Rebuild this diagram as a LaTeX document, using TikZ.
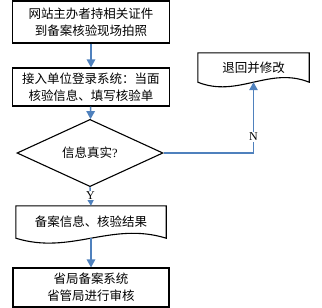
\documentclass[tikz,border=0pt]{standalone}
\usepackage{fontspec}
\setmainfont{Liberation Serif}
\newfontfamily\cjk{Noto Sans CJK SC}
\usetikzlibrary{shapes.geometric,arrows.meta}
\definecolor{flowblue}{RGB}{79,129,189}
\begin{document}
\begin{tikzpicture}[x=1pt,y=1pt,
  txt/.style={inner sep=0pt,align=center,font=\cjk\fontsize{12.5}{17}\selectfont},
  box/.style={txt,draw=black,line width=1.1pt},
  docnode/.style={txt,draw=none},
  docline/.style={draw=black,line width=1.1pt,line join=miter},
  dia/.style={txt,draw=black,line width=1.1pt,shape=diamond},
  flow/.style={draw=flowblue,line width=1.4pt,-{Triangle[length=8pt,width=8.5pt]}},
  lab/.style={fill=white,inner sep=1pt,font=\fontsize{12}{13}\selectfont}]
\useasboundingbox (0,0) rectangle (322,-308);
\node[box,minimum width=157pt,minimum height=42pt] (b1) at (91,-22) {网站主办者持相关证件\\到备案核验现场拍照};
\node[box,minimum width=157pt,minimum height=38pt] (b2) at (91,-87) {接入单位登录系统：当面\\核验信息、填写核验单};
\node[dia,minimum width=146pt,minimum height=50pt] (dia) at (90,-153) {信息真实{\rmfamily ?}};
\node[docnode,minimum width=111pt,minimum height=29pt] (d1) at (253.5,-67.5) {退回并修改};
\draw[docline] (d1.south west) -- (d1.north west) -- (d1.north east) -- (d1.south east)
  .. controls +(-40,16) and +(40,-16) .. (d1.south west) -- cycle;
\node[docnode,minimum width=150pt,minimum height=32pt] (d2) at (91,-222) {备案信息、核验结果};
\draw[docline] (d2.south west) -- (d2.north west) -- (d2.north east) -- (d2.south east)
  .. controls +(-55,17) and +(55,-17) .. (d2.south west) -- cycle;
\node[box,minimum width=156pt,minimum height=39pt] (b3) at (91,-287.5) {省局备案系统\\省管局进行审核};
\draw[flow] (b1) -- (b2);
\draw[flow] (b2) -- (dia);
\draw[flow] (dia.south) -- node[lab,pos=0.45]{Y} (d2.north);
\draw[flow] (dia.east) -| node[lab,pos=0.615]{N} (d1.south);
\draw[flow] (d2.south) -- (b3.north);
\end{tikzpicture}
\end{document}
